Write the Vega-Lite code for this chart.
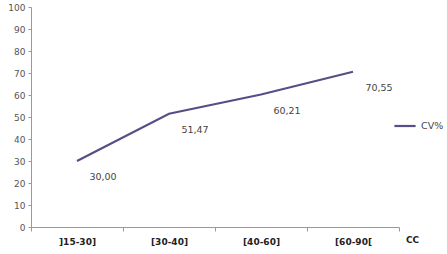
{
  "$schema": "https://vega.github.io/schema/vega-lite/v6.json",
  "width": 368,
  "height": 220,
  "autosize": {"type": "none"},
  "padding": {"left": 31, "top": 7, "right": 48, "bottom": 27},
  "background": "white",
  "data": {"values": [
    {"cc": "]15-30]", "v": 30.00, "label": "30,00", "s": "CV%"},
    {"cc": "[30-40]", "v": 51.47, "label": "51,47", "s": "CV%"},
    {"cc": "[40-60]", "v": 60.21, "label": "60,21", "s": "CV%"},
    {"cc": "[60-90[", "v": 70.55, "label": "70,55", "s": "CV%"}
  ]},
  "config": {
    "view": {"stroke": null},
    "font": "DejaVu Sans"
  },
  "encoding": {
    "x": {
      "field": "cc", "type": "nominal", "sort": null,
      "scale": {"paddingInner": 0, "paddingOuter": 0},
      "axis": {
        "title": "CC", "titleX": 381, "titleY": 12, "titleAlign": "center", "titleBaseline": "middle",
        "titleFont": "DejaVu Sans", "titleFontSize": 9, "titleFontWeight": "bold", "titleColor": "#222",
        "labelAngle": 0, "labelFont": "DejaVu Sans", "labelFontSize": 9, "labelFontWeight": "bold",
        "labelColor": "#222", "labelPadding": 6,
        "tickBand": "extent", "tickSize": 4, "tickColor": "#999", "domainColor": "#999", "grid": false
      }
    },
    "y": {
      "field": "v", "type": "quantitative",
      "scale": {"domain": [0, 100]},
      "axis": {
        "title": null, "values": [0,10,20,30,40,50,60,70,80,90,100],
        "labelFont": "DejaVu Sans", "labelFontSize": 9, "labelColor": "#555",
        "grid": false, "tickSize": 3, "tickColor": "#999", "domainColor": "#999", "labelPadding": 3
      }
    }
  },
  "layer": [
    {
      "mark": {"type": "line", "strokeWidth": 2.2, "color": "#574E85"},
      "encoding": {
        "color": {
          "field": "s", "type": "nominal",
          "scale": {"range": ["#574E85"]},
          "legend": {
            "title": null, "orient": "none", "legendX": 362, "legendY": 107,
            "symbolType": "stroke", "symbolStrokeWidth": 2.2, "symbolSize": 450,
            "labelFont": "DejaVu Sans", "labelFontSize": 9.5, "labelColor": "#444"
          }
        }
      }
    },
    {
      "mark": {"type": "text", "dx": 26, "dy": 16, "font": "DejaVu Sans", "fontSize": 9.5, "color": "#444"},
      "encoding": {"text": {"field": "label"}}
    }
  ]
}
